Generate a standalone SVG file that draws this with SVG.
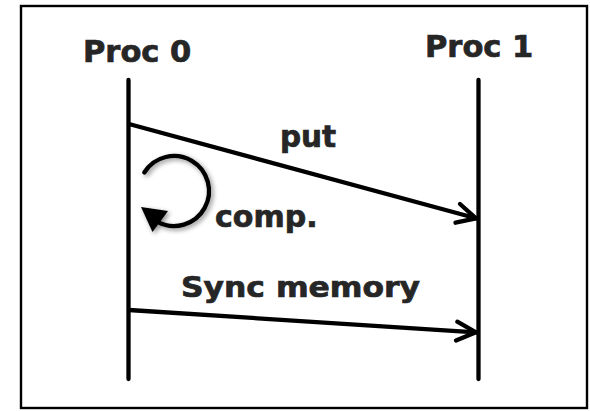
<svg xmlns="http://www.w3.org/2000/svg" width="590" height="411" viewBox="0 0 590 411">
  <defs>
    <style>
      .lbl { font-family: "DejaVu Sans", Verdana, sans-serif; font-weight: bold; fill: #262626; stroke: #262626; stroke-width: 0.7; }
      .line { fill: none; stroke: #000; stroke-width: 4.3; stroke-linecap: round; stroke-linejoin: round; }
    </style>
    <filter id="shadow" x="-30%" y="-30%" width="160%" height="160%">
      <feGaussianBlur in="SourceAlpha" stdDeviation="2.5" result="b"/>
      <feOffset dx="2" dy="2" in="b" result="o"/>
      <feComponentTransfer in="o" result="s"><feFuncA type="linear" slope="0.45"/></feComponentTransfer>
      <feMerge><feMergeNode in="s"/><feMergeNode in="SourceGraphic"/></feMerge>
    </filter>
  </defs>
  <rect x="0" y="0" width="590" height="411" fill="#fff"/>
  <rect id="frame" x="21" y="6" width="566" height="402" fill="none" stroke="#000" stroke-width="2.4"/>

  <g id="proc0">
    <text class="lbl" x="83" y="61.5" font-size="30.5">Proc 0</text>
    <line class="line" x1="128.5" y1="80" x2="128.5" y2="379"/>
  </g>
  <g id="proc1">
    <text class="lbl" x="425" y="57" font-size="30.5">Proc 1</text>
    <line class="line" x1="478.5" y1="80" x2="478.5" y2="379"/>
  </g>

  <g id="compute">
    <g filter="url(#shadow)">
      <path class="line" d="M 144.3 172.5 A 35 35 0 1 1 157.6 221.9"/>
      <polygon points="141,207 168,211 152.5,232" fill="#000"/>
    </g>
    <text class="lbl" x="215" y="227" font-size="30">comp.</text>
  </g>

  <g id="connectors">
    <g id="put">
      <line class="line" x1="129" y1="124" x2="476" y2="218.3"/>
      <polyline class="line" points="460,204 476,218.3 455.5,222.7"/>
      <text class="lbl" x="280" y="147" font-size="29.5">put</text>
    </g>
    <g id="sync">
      <line class="line" x1="129" y1="310" x2="476" y2="332.3"/>
      <polyline class="line" points="457.3,321.7 476,332.3 456,340.5"/>
      <text class="lbl" x="181" y="297" font-size="28" textLength="239" lengthAdjust="spacingAndGlyphs">Sync memory</text>
    </g>
  </g>
</svg>
